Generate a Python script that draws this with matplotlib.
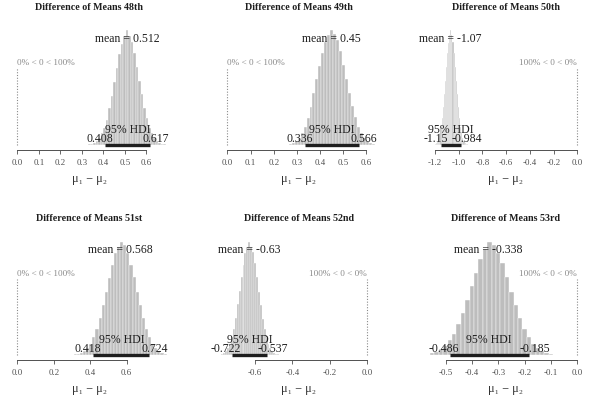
import matplotlib
matplotlib.use("Agg")
import matplotlib.pyplot as plt

plt.rcParams["font.family"] = ["Liberation Serif", "DejaVu Serif"]

# panel data (48th .. 53rd)
titles = [
    "Difference of Means 48th",
    "Difference of Means 49th",
    "Difference of Means 50th",
    "Difference of Means 51st",
    "Difference of Means 52nd",
    "Difference of Means 53rd",
]
means = [0.512, 0.45, -1.07, 0.568, -0.63, -0.338]
mean_labels = ["0.512", "0.45", "-1.07", "0.568", "-0.63", "-0.338"]
hdi_low = [0.408, 0.336, -1.15, 0.418, -0.722, -0.486]
hdi_high = [0.617, 0.566, -0.984, 0.724, -0.537, -0.185]
hdi_low_labels = ["0.408", "0.336", "-1.15", "0.418", "-0.722", "-0.486"]
hdi_high_labels = ["0.617", "0.566", "-0.984", "0.724", "-0.537", "-0.185"]
pct_below = [0, 0, 100, 0, 100, 100]
pct_above = [100, 100, 0, 100, 0, 0]

# histogram: first bin edge and relative bar heights
bin_starts = [0.33, 0.265, -1.20, 0.31, -0.78, -0.56]
heights_48 = [0.5, 1, 2, 3.5, 6, 10, 15, 22, 32, 43, 55, 67, 79, 88, 95, 100,
              95, 90, 80, 68, 56, 44, 32, 23, 15, 10, 6, 3.5, 2, 1, 0.5]
heights_49 = [1, 2, 3.5, 6, 10, 16, 23, 33, 45, 57, 69, 80, 90, 96, 100,
              97, 91, 82, 70, 57, 45, 34, 24, 16, 10, 6, 3.5, 2, 1]
heights_50 = [1, 2, 3.5, 6, 10, 16, 23, 33, 44, 56, 68, 80, 89, 96, 100,
              96, 90, 80, 68, 56, 44, 33, 23, 16, 10, 6, 3.5, 2, 1, 0.5]
heights_51 = [0.5, 1, 2, 3.5, 6, 10, 16, 23, 33, 44, 56, 68, 80, 90, 96, 100,
              97, 90, 80, 69, 56, 44, 33, 23, 16, 10, 6, 3.5, 2, 1]
heights_52 = [1, 2, 3.5, 6, 10, 16, 23, 33, 45, 57, 69, 80, 90, 96, 100,
              96, 91, 81, 69, 56, 44, 32, 23, 15, 10, 6, 3.5, 2, 1, 0.5]
heights_53 = [1.5, 3, 5, 8, 13, 19, 27, 37, 49, 61, 73, 85, 94, 100,
              97, 90, 81, 69, 56, 44, 33, 23, 16, 10, 6, 3.5, 2, 1]
heights = [heights_48, heights_49, heights_50, heights_51, heights_52, heights_53]

ticks = [
    [0.0, 0.1, 0.2, 0.3, 0.4, 0.5, 0.6],
    [0.0, 0.1, 0.2, 0.3, 0.4, 0.5, 0.6],
    [-1.2, -1.0, -0.8, -0.6, -0.4, -0.2, 0.0],
    [0.0, 0.2, 0.4, 0.6],
    [-0.6, -0.4, -0.2, 0.0],
    [-0.5, -0.4, -0.3, -0.2, -0.1, 0.0],
]
xlims = [(-0.0265, 0.694), (-0.0272, 0.641), (-1.259, 0.048),
         (-0.0313, 0.820), (-0.782, 0.0465), (-0.568, 0.0217)]

BAR = "#bdbdbd"
INK = "#1e1e1e"
AXIS = "#505050"
CMP = "#8a8a8a"

W, H = 597, 407
fig = plt.figure(figsize=(W / 100, H / 100), dpi=100)
col_left = [11.6, 221, 428]
col_w = 155
rows = [(25.5, 149.5), (237.5, 359.5)]
title_pad = [10.8, 12.2]

renderer = fig.canvas.get_renderer()

for i in range(6):
    r, c = divmod(i, 3)
    top, bot = rows[r]
    ax = fig.add_axes([col_left[c] / W, 1 - bot / H, col_w / W, (bot - top) / H])
    h = heights[i]
    peak = max(h)
    bw = (hdi_high[i] - hdi_low[i]) / 18
    lefts = [bin_starts[i] + k * bw for k in range(len(h))]
    ax.bar(lefts, h, width=bw, align="edge", color=BAR, edgecolor="white",
           linewidth=0.3, zorder=1)
    ax.set_xlim(*xlims[i])
    ax.set_ylim(-0.04 * peak, 1.04 * peak)

    for s in ["top", "right", "left"]:
        ax.spines[s].set_visible(False)
    ax.spines["bottom"].set_color(AXIS)
    ax.spines["bottom"].set_linewidth(0.7)
    ax.spines["bottom"].set_bounds(ticks[i][0], ticks[i][-1])
    ax.set_yticks([])
    ax.set_xticks(ticks[i])
    ax.set_xticklabels([f"{t:.1f}" for t in ticks[i]])
    ax.tick_params(axis="x", length=2.8, width=0.6, color=AXIS, labelcolor=AXIS,
                   labelsize=6.4, pad=4.2)
    ax.set_xlabel("μ₁ − μ₂", fontsize=8.8, color="#333333", labelpad=4.5)
    ax.set_title(titles[i], fontsize=7.2, fontweight="bold", color=INK, pad=title_pad[r])

    # comparison value
    cv_h = 0.7 * peak
    ax.plot([0, 0], [0, 0.96 * cv_h], color=CMP, lw=0.8, ls=(0, (1, 1.5)), zorder=2)
    ha = "left" if pct_below[i] == 0 else "right"
    ax.text(0, cv_h, f"{pct_below[i]}% < 0 < {pct_above[i]}%", ha=ha, va="baseline",
            fontsize=6.6, color=CMP, zorder=3)

    # central tendency
    ax.text(means[i], 0.9 * peak, f"mean = {mean_labels[i]}", ha="center",
            va="baseline", fontsize=8.5, color=INK, zorder=3)

    # HDI
    ax.plot([hdi_low[i], hdi_high[i]], [0, 0], color=INK, lw=2.4,
            solid_capstyle="butt", zorder=3)
    ax.annotate("95% HDI", xy=((hdi_low[i] + hdi_high[i]) / 2, 0), xytext=(0, 8.9),
                textcoords="offset points", ha="center", va="baseline",
                fontsize=8.5, color=INK, zorder=3)
    for x, lab, frac in [(hdi_low[i], hdi_low_labels[i], -0.2),
                         (hdi_high[i], hdi_high_labels[i], 0.2)]:
        t = ax.annotate(lab, xy=(x, 0), xytext=(0, 1.8), textcoords="offset points",
                        ha="center", va="baseline", fontsize=8.5, color=INK, zorder=3)
        w = t.get_window_extent(renderer).width * 72 / fig.dpi
        t.xyann = (frac * w, 1.8)

fig.savefig("out.png", dpi=100)
